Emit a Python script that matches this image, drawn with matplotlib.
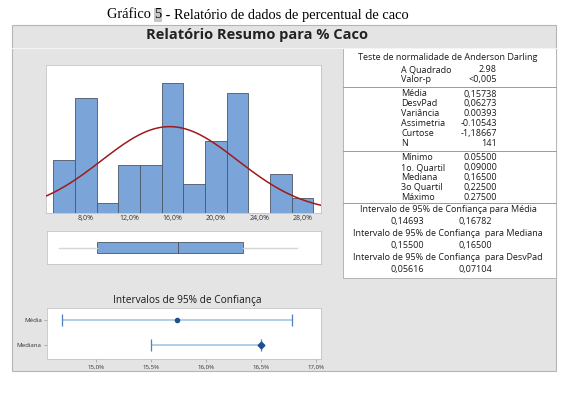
import numpy as np
import matplotlib
matplotlib.use("Agg")
import matplotlib.pyplot as plt
from matplotlib.patches import Rectangle
from matplotlib.ticker import FuncFormatter

# histogram of % Caco (fraction), 2% bins
bin_edges = [0.05, 0.07, 0.09, 0.11, 0.13, 0.15, 0.17, 0.19, 0.21, 0.23, 0.25, 0.27, 0.29]
counts = [11, 24, 2, 10, 10, 27, 6, 15, 25, 0, 8, 3]
hist_ticks = [0.08, 0.12, 0.16, 0.20, 0.24, 0.28]

mean_val = 0.15738
sd_val = 0.06273
n_obs = 141
box_min, box_q1, box_med, box_q3, box_max = 0.055, 0.090, 0.165, 0.225, 0.275

ci_labels = ["Média", "Mediana"]
ci_low = [0.14693, 0.155]
ci_high = [0.16782, 0.165]
ci_point = [0.15738, 0.165]
ci_ticks = [0.150, 0.155, 0.160, 0.165, 0.170]

ad_rows = [("A Quadrado", "2.98"), ("Valor-p", "<0,005")]
desc_rows = [("Média", "0,15738"), ("DesvPad", "0,06273"), ("Variância", "0.00393"),
             ("Assimetria", "-0.10543"), ("Curtose", "-1,18667"), ("N", "141")]
quant_rows = [("Mínimo", "0.05500"), ("1o. Quartil", "0,09000"), ("Mediana", "0,16500"),
              ("3o Quartil", "0,22500"), ("Máximo", "0.27500")]
ci_rows = [("Intervalo de 95% de Confiança para Média", "0,14693", "0,16782"),
           ("Intervalo de 95% de Confiança  para Mediana", "0,15500", "0,16500"),
           ("Intervalo de 95% de Confiança  para DesvPad", "0,05616", "0,07104")]

W, H = 570, 393
UI = "Open Sans"
bar_color = "#7ba4d8"
edge_color = "#4a5666"
border = "#b5b5b5"

fig = plt.figure(figsize=(W / 100, H / 100), dpi=100)
fig.patch.set_facecolor("white")

bg = fig.add_axes([0, 0, 1, 1])
bg.set_xlim(0, W)
bg.set_ylim(H, 0)
bg.axis("off")


def px_axes(x0, y0, x1, y1):
    ax = fig.add_axes([x0 / W, 1 - y1 / H, (x1 - x0) / W, (y1 - y0) / H])
    ax.set_facecolor("white")
    for s in ax.spines.values():
        s.set_color("#c4c4c4")
        s.set_linewidth(0.6)
    return ax


# caption above the report
cap_fs = 10.4
t1 = bg.text(107, 15, "Gráfico ", ha="left", va="center", family="Liberation Serif", fontsize=cap_fs)
t2 = bg.annotate("5", xy=(1, 0), xycoords=t1, ha="left", va="bottom",
                 family="Liberation Serif", fontsize=cap_fs,
                 bbox=dict(boxstyle="square,pad=0.05", fc="#c8c8c8", ec="none"))
bg.annotate(" - Relatório de dados de percentual de caco", xy=(1, 0), xycoords=t2,
            ha="left", va="bottom", family="Liberation Serif", fontsize=cap_fs)

# report panel
bg.add_patch(Rectangle((12, 25), 544, 346, fc="#e4e4e4", ec=border, lw=0.8))
bg.plot([12, 556], [48, 48], color="#f4f4f4", lw=0.8)
bg.text(257, 35.5, "Relatório Resumo para % Caco", ha="center", va="center",
        family=UI, fontweight="bold", fontsize=10.5, color="#222222")

# stats table
tx0, tx1 = 343, 556
bg.add_patch(Rectangle((tx0, 48), tx1 - tx0, 230, fc="white", ec=border, lw=0.7))
for ysep in [87, 151, 203]:
    bg.plot([tx0, tx1], [ysep, ysep], color="#9a9a9a", lw=0.7)

fs = 6.45
tc = "#1a1a1a"
bg.text(448, 58, "Teste de normalidade de Anderson Darling", ha="center", va="center",
        family=UI, fontsize=fs, color=tc)
y = 70
for lab, val in ad_rows:
    bg.text(401, y, lab, ha="left", va="center", family=UI, fontsize=fs, color=tc)
    bg.text(497, y, val, ha="right", va="center", family=UI, fontsize=fs, color=tc)
    y += 9.5
y = 94
for lab, val in desc_rows:
    bg.text(401, y, lab, ha="left", va="center", family=UI, fontsize=fs, color=tc)
    bg.text(497, y, val, ha="right", va="center", family=UI, fontsize=fs, color=tc)
    y += 9.9
y = 158
for lab, val in quant_rows:
    bg.text(401, y, lab, ha="left", va="center", family=UI, fontsize=fs, color=tc)
    bg.text(497, y, val, ha="right", va="center", family=UI, fontsize=fs, color=tc)
    y += 9.8
y = 209.5
for lab, lo, hi in ci_rows:
    bg.text(448, y, lab, ha="center", va="center", family=UI, fontsize=fs, color=tc)
    bg.text(407, y + 12, lo, ha="center", va="center", family=UI, fontsize=fs, color=tc)
    bg.text(475, y + 12, hi, ha="center", va="center", family=UI, fontsize=fs, color=tc)
    y += 24

pct1 = FuncFormatter(lambda v, p: f"{v * 100:.1f}%".replace(".", ","))

# histogram with fitted normal curve
ax_h = px_axes(46, 65, 321, 212.5)
edges = np.array(bin_edges)
ax_h.bar(edges[:-1], counts, width=np.diff(edges), align="edge",
         color=bar_color, edgecolor=edge_color, linewidth=0.6, zorder=2)
xs = np.linspace(0.04, 0.30, 300)
binw = bin_edges[1] - bin_edges[0]
dens = n_obs * binw / (sd_val * np.sqrt(2 * np.pi)) * np.exp(-0.5 * ((xs - mean_val) / sd_val) ** 2)
ax_h.plot(xs, dens, color="#9e1b1b", lw=1.1, zorder=3)
ax_h.set_xlim(0.0433, 0.297)
ax_h.set_ylim(0, 30.8)
ax_h.set_yticks([])
ax_h.set_xticks(hist_ticks)
ax_h.xaxis.set_major_formatter(pct1)
ax_h.tick_params(axis="x", labelsize=5.0, length=0, pad=2, labelcolor="#333333")
for lab in ax_h.get_xticklabels():
    lab.set_family(UI)

# boxplot
ax_b = px_axes(46.5, 231, 321, 264)
ax_b.bxp([dict(med=box_med, q1=box_q1, q3=box_q3, whislo=box_min, whishi=box_max, fliers=[])],
         positions=[1], widths=0.34, orientation="horizontal", patch_artist=True, showcaps=False,
         boxprops=dict(facecolor=bar_color, edgecolor=edge_color, linewidth=0.6),
         medianprops=dict(color=edge_color, linewidth=0.7),
         whiskerprops=dict(color="#d6d6d6", linewidth=1.0))
ax_b.set_xlim(0.0433, 0.297)
ax_b.set_ylim(0.5, 1.5)
ax_b.set_xticks([])
ax_b.set_yticks([])

# confidence intervals
bg.text(187, 300, "Intervalos de 95% de Confiança", ha="center", va="center",
        family=UI, fontsize=7.3, color=tc)
ax_c = px_axes(47.3, 308, 321, 359)
ci_y = [1.5, 0.5]
ax_c.hlines(ci_y, ci_low, ci_high, color="#a9c9e8", lw=1.3, zorder=2)
ax_c.plot(ci_low, ci_y, ls="none", marker="|", ms=8.5, mew=0.9, color="#4f7fbf", zorder=3)
ax_c.plot(ci_high, ci_y, ls="none", marker="|", ms=8.5, mew=0.9, color="#4f7fbf", zorder=3)
ax_c.plot(ci_point[0], ci_y[0], ls="none", marker="o", ms=3.0, color="#1f4f8f", zorder=4)
ax_c.plot(ci_point[1], ci_y[1], ls="none", marker="D", ms=3.4, color="#1f4f8f", zorder=4)
ax_c.set_xlim(0.14559, 0.17045)
ax_c.set_ylim(-0.08, 2.0)
ax_c.set_xticks(ci_ticks)
ax_c.xaxis.set_major_formatter(pct1)
ax_c.set_yticks(ci_y)
ax_c.set_yticklabels(ci_labels)
ax_c.tick_params(axis="both", labelsize=4.4, length=2, width=0.5, pad=2,
                 color="#999999", labelcolor="#333333")
for lab in ax_c.get_xticklabels() + ax_c.get_yticklabels():
    lab.set_family(UI)

fig.savefig("out.png", dpi=100)
